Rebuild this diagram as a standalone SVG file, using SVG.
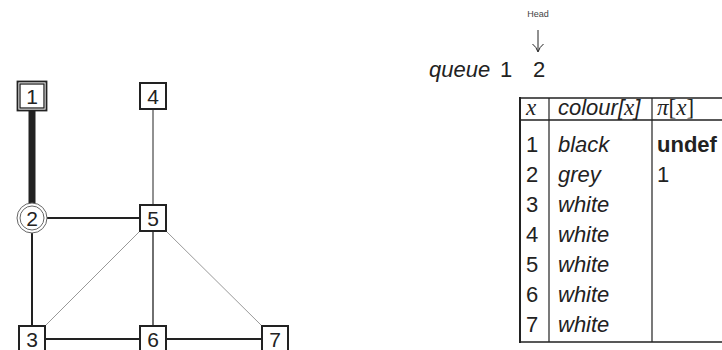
<svg xmlns="http://www.w3.org/2000/svg" width="722" height="350" viewBox="0 0 722 350">
<style>
.box{fill:#fff;stroke:#222;stroke-width:2}
.lbl{font-family:"Liberation Sans",sans-serif;font-size:21px;fill:#222;text-anchor:middle}
.e{stroke:#222;fill:none}
.t{font-family:"Liberation Sans",sans-serif;font-size:22px;fill:#222}
.it{font-style:italic}
.m{font-family:"Liberation Serif",serif;font-style:italic}
.r{font-family:"Liberation Serif",serif}
.tl{stroke:#222;fill:none}
</style>
<rect width="722" height="350" fill="#fff"/>
<g id="edges">
<line class="e" x1="32" y1="111" x2="32" y2="204" stroke-width="7"/>
<line class="e" x1="47" y1="218" x2="140" y2="218" stroke-width="2"/>
<line class="e" x1="32" y1="233" x2="32" y2="326" stroke-width="2"/>
<line class="e" x1="153" y1="109" x2="153" y2="205" stroke-width="1"/>
<line class="e" x1="153" y1="231" x2="153" y2="326" stroke-width="1.3"/>
<line x1="140" y1="231" x2="45" y2="326" stroke="#999" stroke-width="1"/>
<line x1="166" y1="231" x2="262" y2="326" stroke="#999" stroke-width="1"/>
<line class="e" x1="45" y1="339" x2="140" y2="339" stroke-width="2"/>
<line class="e" x1="166" y1="339" x2="262" y2="339" stroke-width="2"/>
</g>
<g id="node1">
<rect x="17.5" y="81.5" width="29" height="29" fill="#fff" stroke="#222" stroke-width="1.8"/>
<rect x="20" y="84" width="24" height="24" fill="none" stroke="#222" stroke-width="1.3"/>
<text class="lbl" x="32" y="103.5">1</text>
</g>
<g id="node2">
<circle cx="32" cy="218" r="15" fill="#fff" stroke="#666" stroke-width="1"/>
<circle cx="32" cy="218" r="12" fill="none" stroke="#666" stroke-width="1"/>
<text class="lbl" x="32" y="225.5">2</text>
</g>
<g id="node4">
<rect class="box" x="140" y="83" width="26" height="26"/>
<text class="lbl" x="153" y="103.5">4</text>
</g>
<g id="node5">
<rect class="box" x="140" y="205" width="26" height="26"/>
<text class="lbl" x="153" y="225.5">5</text>
</g>
<g id="node3">
<rect class="box" x="19" y="326" width="26" height="26"/>
<text class="lbl" x="32" y="346.5">3</text>
</g>
<g id="node6">
<rect class="box" x="140" y="326" width="26" height="26"/>
<text class="lbl" x="153" y="346.5">6</text>
</g>
<g id="node7">
<rect class="box" x="262" y="326" width="26" height="26"/>
<text class="lbl" x="275" y="346.5">7</text>
</g>
<g id="queue">
<text x="538" y="17" font-family="Liberation Sans,sans-serif" font-size="9" fill="#444" text-anchor="middle">Head</text>
<path d="M538,30 V51 M532.5,44 Q536.5,47 538,52 Q539.5,47 543.5,44" stroke="#222" stroke-width="1" fill="none"/>
<text class="t it" x="429" y="77" font-size="20">queue</text>
<text class="t" x="500" y="77" font-size="20">1</text>
<text class="t" x="533" y="77" font-size="20">2</text>
</g>
<g id="table">
<path class="tl" d="M520,98 H722 M520,120 H722 M520,342 H722" stroke-width="1.5"/>
<path class="tl" d="M520,97 V343" stroke-width="2"/>
<path class="tl" d="M549,98 V342 M652,98 V342" stroke-width="1.2"/>
<text class="t" x="526" y="115"><tspan class="m" font-size="23">x</tspan></text>
<text class="t" x="558" y="115"><tspan class="it">colour[</tspan><tspan class="m" font-size="23">x</tspan><tspan class="it">]</tspan></text>
<text class="t" x="657" y="115"><tspan class="m" font-size="23">π</tspan><tspan class="r" font-size="23">[</tspan><tspan class="m" font-size="23">x</tspan><tspan class="r" font-size="23">]</tspan></text>
<text class="t" x="526" y="152">1</text><text class="t it" x="558" y="152">black</text><text class="t" x="657" y="152" font-weight="bold" font-size="23.5">undef</text>
<text class="t" x="526" y="182">2</text><text class="t it" x="558" y="182">grey</text><text class="t" x="657" y="182">1</text>
<text class="t" x="526" y="212">3</text><text class="t it" x="558" y="212">white</text>
<text class="t" x="526" y="242">4</text><text class="t it" x="558" y="242">white</text>
<text class="t" x="526" y="272">5</text><text class="t it" x="558" y="272">white</text>
<text class="t" x="526" y="302">6</text><text class="t it" x="558" y="302">white</text>
<text class="t" x="526" y="332">7</text><text class="t it" x="558" y="332">white</text>
</g>
</svg>
